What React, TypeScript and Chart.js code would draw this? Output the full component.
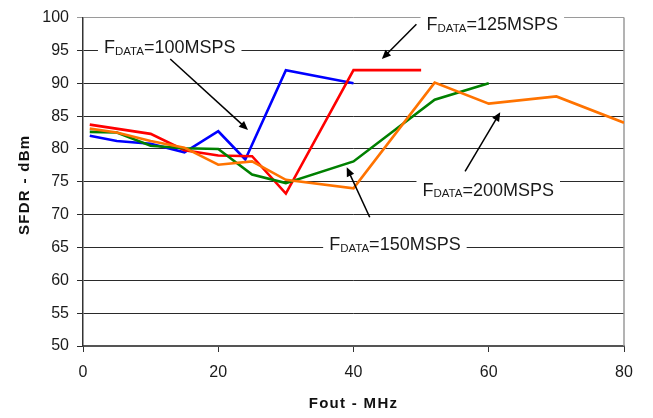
import { useEffect, useRef } from 'react';
import { Chart, registerables } from 'chart.js';

Chart.register(...registerables);

const FONT = '"Liberation Sans", Arial, Helvetica, sans-serif';

// Output frequency (MHz) and SFDR (dBm) for each data rate
const fout100 = [1, 5, 10, 15, 20, 24, 30, 40];
const sfdr100 = [82.0, 81.2, 80.8, 79.5, 82.7, 78.4, 92.0, 90.0];

const fout125 = [1, 10, 15, 20, 25, 30, 40, 50];
const sfdr125 = [83.7, 82.3, 79.8, 79.0, 78.9, 73.2, 92.0, 92.0];

const fout150 = [1, 5, 10, 15, 20, 25, 30, 40, 52, 60];
const sfdr150 = [82.6, 82.5, 80.5, 80.1, 80.0, 76.1, 74.8, 78.1, 87.5, 90.0];

const fout200 = [1, 5, 10, 15, 20, 25, 30, 40, 52, 60, 70, 80];
const sfdr200 = [83.1, 82.5, 81.2, 80.2, 77.6, 78.1, 75.3, 74.0, 90.1, 86.9, 88.0, 84.0];

// Axis ranges
const xMin = 0;
const xMax = 80;
const xStep = 20;
const yMin = 50;
const yMax = 100;
const yStep = 5;

// Callouts: label text anchor and arrow ends, in data units (MHz, dBm)
const calloutRates = ['100MSPS', '125MSPS', '150MSPS', '200MSPS'];
const calloutTextX = [3.1, 50.8, 36.4, 50.2];
const calloutTextY = [94.6, 98.1, 64.6, 72.9];
const arrowFromX = [12.9, 49.3, 42.4, 56.5];
const arrowFromY = [93.7, 99.0, 69.6, 76.6];
const arrowToX = [24.4, 44.2, 39.0, 61.7];
const arrowToY = [82.9, 93.7, 77.2, 85.6];

const pts = (xs: number[], ys: number[]) => xs.map((x, i) => ({ x, y: ys[i] }));

const MAIN_FONT = `18px ${FONT}`;
const SUB_FONT = `11.5px ${FONT}`;

function calloutWidth(ctx: CanvasRenderingContext2D, rate: string) {
  ctx.font = MAIN_FONT;
  const a = ctx.measureText('F').width;
  const c = ctx.measureText('=' + rate).width;
  ctx.font = SUB_FONT;
  const b = ctx.measureText('DATA').width;
  return a + b + c;
}

function drawArrow(ctx: CanvasRenderingContext2D, x1: number, y1: number, x2: number, y2: number) {
  const ang = Math.atan2(y2 - y1, x2 - x1);
  const cos = Math.cos(ang);
  const sin = Math.sin(ang);
  const head = 9;
  const half = 4;
  ctx.beginPath();
  ctx.moveTo(x1, y1);
  ctx.lineTo(x2 - head * 0.7 * cos, y2 - head * 0.7 * sin);
  ctx.stroke();
  ctx.beginPath();
  ctx.moveTo(x2, y2);
  ctx.lineTo(x2 - head * cos + half * sin, y2 - head * sin - half * cos);
  ctx.lineTo(x2 - head * cos - half * sin, y2 - head * sin + half * cos);
  ctx.closePath();
  ctx.fill();
}

const annotationPlugin = {
  id: 'sfdrAnnotations',
  beforeDatasetsDraw(chart: any) {
    const { ctx, chartArea, scales } = chart;
    const xs = scales.x;
    const ys = scales.y;
    ctx.save();
    // right frame line
    ctx.strokeStyle = '#9a9a9a';
    ctx.lineWidth = 1.5;
    ctx.beginPath();
    ctx.moveTo(chartArea.right, chartArea.top);
    ctx.lineTo(chartArea.right, chartArea.bottom);
    ctx.stroke();
    // white boxes behind callout text
    ctx.fillStyle = '#ffffff';
    calloutRates.forEach((rate, i) => {
      const tx = xs.getPixelForValue(calloutTextX[i]);
      const ty = ys.getPixelForValue(calloutTextY[i]);
      const w = calloutWidth(ctx, rate);
      ctx.fillRect(tx - 6, ty - 16, w + 12, 22);
    });
    ctx.restore();
  },
  afterDraw(chart: any) {
    const { ctx, chartArea, scales } = chart;
    const xs = scales.x;
    const ys = scales.y;
    ctx.save();
    // callout text with subscript
    ctx.fillStyle = '#1a1a1a';
    ctx.textBaseline = 'alphabetic';
    ctx.textAlign = 'left';
    calloutRates.forEach((rate, i) => {
      let tx = xs.getPixelForValue(calloutTextX[i]);
      const ty = ys.getPixelForValue(calloutTextY[i]);
      ctx.font = MAIN_FONT;
      ctx.fillText('F', tx, ty);
      tx += ctx.measureText('F').width;
      ctx.font = SUB_FONT;
      ctx.fillText('DATA', tx, ty + 1.5);
      tx += ctx.measureText('DATA').width;
      ctx.font = MAIN_FONT;
      ctx.fillText('=' + rate, tx, ty);
    });
    // arrows
    ctx.strokeStyle = '#000000';
    ctx.fillStyle = '#000000';
    ctx.lineWidth = 1.5;
    calloutRates.forEach((_, i) => {
      drawArrow(
        ctx,
        xs.getPixelForValue(arrowFromX[i]),
        ys.getPixelForValue(arrowFromY[i]),
        xs.getPixelForValue(arrowToX[i]),
        ys.getPixelForValue(arrowToY[i])
      );
    });
    // axis titles
    ctx.fillStyle = '#111111';
    ctx.font = `bold 15px ${FONT}`;
    (ctx as any).letterSpacing = '1.3px';
    ctx.textAlign = 'center';
    ctx.textBaseline = 'middle';
    ctx.fillText('Fout - MHz', (chartArea.left + chartArea.right) / 2, chartArea.bottom + 58);
    ctx.translate(25, (chartArea.top + chartArea.bottom) / 2 + 3);
    ctx.rotate(-Math.PI / 2);
    ctx.fillText('SFDR - dBm', 0, 0);
    ctx.restore();
  },
};

export default function App() {
  const canvasRef = useRef<HTMLCanvasElement | null>(null);

  useEffect(() => {
    const canvas = canvasRef.current;
    if (!canvas) return;
    const tickFont = { family: FONT, size: 16 };
    const line = (data: { x: number; y: number }[], color: string, order: number) => ({
      data,
      borderColor: color,
      backgroundColor: color,
      borderWidth: 2.6,
      pointRadius: 0,
      tension: 0,
      fill: false,
      order,
    });
    const chart = new Chart(canvas, {
      type: 'line',
      data: {
        datasets: [
          line(pts(fout100, sfdr100), '#0000ff', 4),
          line(pts(fout125, sfdr125), '#ff0000', 3),
          line(pts(fout150, sfdr150), '#008000', 2),
          line(pts(fout200, sfdr200), '#ff7300', 1),
        ],
      },
      options: {
        responsive: false,
        animation: false,
        devicePixelRatio: 1,
        layout: { padding: { left: 0, top: 15, right: 29, bottom: 0 } },
        plugins: {
          legend: { display: false },
          tooltip: { enabled: false },
        },
        scales: {
          x: {
            type: 'linear',
            min: xMin,
            max: xMax,
            afterFit: (s: any) => {
              s.height = 72;
            },
            ticks: {
              stepSize: xStep,
              color: '#1a1a1a',
              font: tickFont,
              padding: 11,
              maxRotation: 0,
            },
            grid: {
              drawOnChartArea: false,
              drawTicks: true,
              tickLength: 6,
              color: '#333333',
            },
            border: { display: true, color: '#555555', width: 2 },
          },
          y: {
            type: 'linear',
            min: yMin,
            max: yMax,
            afterFit: (s: any) => {
              s.width = 83;
            },
            ticks: {
              stepSize: yStep,
              color: '#1a1a1a',
              font: tickFont,
              padding: 8,
            },
            grid: {
              drawTicks: true,
              tickLength: 6,
              lineWidth: 1,
              color: (c: any) => (c.tick && c.tick.value === yMax ? '#9a9a9a' : '#2a2a2a'),
            },
            border: { display: true, color: '#333333', width: 1.5 },
          },
        },
      },
      plugins: [annotationPlugin],
    });
    return () => chart.destroy();
  }, []);

  return (
    <div style={{ position: 'fixed', left: 0, top: 0, width: 653, height: 418, background: '#ffffff' }}>
      <canvas ref={canvasRef} width={653} height={418} />
    </div>
  );
}
